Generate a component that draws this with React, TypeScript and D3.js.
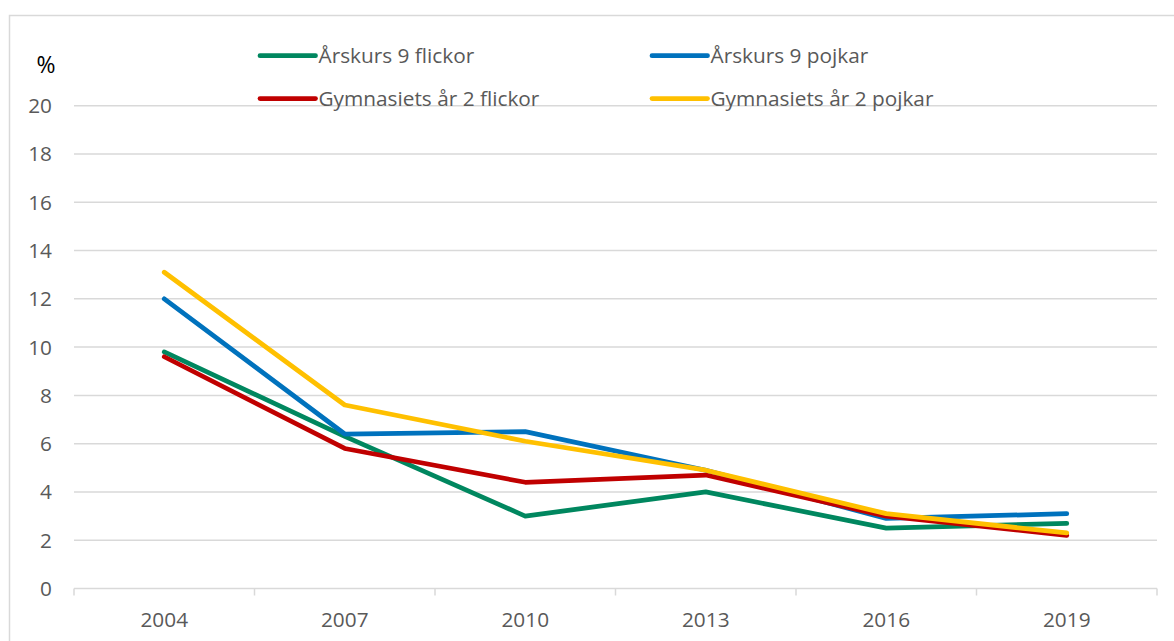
import { useEffect, useRef } from "react";
import * as d3 from "d3";

const years = ["2004", "2007", "2010", "2013", "2016", "2019"];
const yTicks = [0, 2, 4, 6, 8, 10, 12, 14, 16, 18, 20];

const arskurs9Flickor = [9.8, 6.3, 3.0, 4.0, 2.5, 2.7];
const arskurs9Pojkar = [12.0, 6.4, 6.5, 4.9, 2.9, 3.1];
const gymnasietFlickor = [9.6, 5.8, 4.4, 4.7, 3.0, 2.2];
const gymnasietPojkar = [13.1, 7.6, 6.1, 4.9, 3.1, 2.3];

const seriesNames = [
  "Årskurs 9 flickor",
  "Årskurs 9 pojkar",
  "Gymnasiets år 2 flickor",
  "Gymnasiets år 2 pojkar",
];
const seriesColors = ["#00875F", "#0072BD", "#C00000", "#FFC000"];

/**
 * Line chart, four series over survey years.
 */
export default function App() {
  const svgRef = useRef<SVGSVGElement>(null);

  useEffect(() => {
    document.body.style.margin = "0";
    const svg = d3.select(svgRef.current);
    svg.selectAll("*").remove();

    const width = 1174;
    const height = 641;
    const margin = { top: 105.7, right: 17, bottom: 52.5, left: 74 };
    const font = "'Open Sans', sans-serif";
    const fontSize = 20.8;
    const textColor = "#595959";
    const gridColor = "#D9D9D9";

    svg.attr("width", width).attr("height", height).style("background", "#fff").style("display", "block");

    // chart area border
    svg
      .append("rect")
      .attr("x", 9.5)
      .attr("y", 15.5)
      .attr("width", width + 20)
      .attr("height", height + 20)
      .attr("fill", "none")
      .attr("stroke", gridColor)
      .attr("stroke-width", 1.5);

    const xScale = d3
      .scaleBand()
      .domain(years)
      .range([margin.left, width - margin.right]);

    const yScale = d3
      .scaleLinear()
      .domain([0, 20])
      .range([height - margin.bottom, margin.top]);

    // gridlines
    svg
      .append("g")
      .selectAll("line")
      .data(yTicks.filter((t) => t > 0))
      .enter()
      .append("line")
      .attr("x1", margin.left)
      .attr("x2", width - margin.right)
      .attr("y1", (d) => yScale(d))
      .attr("y2", (d) => yScale(d))
      .attr("stroke", gridColor)
      .attr("stroke-width", 1.5);

    // y labels
    svg
      .append("g")
      .selectAll("text")
      .data(yTicks)
      .enter()
      .append("text")
      .attr("x", 52)
      .attr("y", (d) => yScale(d))
      .attr("dy", "0.36em")
      .attr("text-anchor", "end")
      .attr("font-family", font)
      .attr("font-size", fontSize)
      .attr("fill", textColor)
      .text((d) => d);

    svg
      .append("text")
      .attr("x", 46)
      .attr("y", 73)
      .attr("text-anchor", "middle")
      .attr("font-family", font)
      .attr("font-size", 23)
      .attr("fill", "#000")
      .text("%");

    // x axis
    const xAxis = d3
      .axisBottom(xScale)
      .tickSize(0)
      .tickPadding(0)
      .tickFormat(() => "");
    const gx = svg
      .append("g")
      .attr("transform", `translate(0, ${yScale(0)})`)
      .call(xAxis);
    gx.select(".domain")
      .attr("stroke", gridColor)
      .attr("stroke-width", 1.5)
      .attr("d", `M${margin.left},0H${width - margin.right}`);

    const bounds = years.map((y) => xScale(y)!).concat([width - margin.right]);
    svg
      .append("g")
      .selectAll("line")
      .data(bounds)
      .enter()
      .append("line")
      .attr("x1", (d) => d)
      .attr("x2", (d) => d)
      .attr("y1", yScale(0))
      .attr("y2", yScale(0) + 7)
      .attr("stroke", gridColor)
      .attr("stroke-width", 1.5);

    svg
      .append("g")
      .selectAll("text")
      .data(years)
      .enter()
      .append("text")
      .attr("x", (d) => xScale(d)! + xScale.bandwidth() / 2)
      .attr("y", 626.5)
      .attr("text-anchor", "middle")
      .attr("font-family", font)
      .attr("font-size", fontSize)
      .attr("fill", textColor)
      .text((d) => d);

    // lines
    const allSeries = [arskurs9Flickor, arskurs9Pojkar, gymnasietFlickor, gymnasietPojkar];
    const line = d3
      .line<number>()
      .x((_, i) => xScale(years[i])! + xScale.bandwidth() / 2)
      .y((d) => yScale(d));

    allSeries.forEach((values, i) => {
      svg
        .append("path")
        .datum(values)
        .attr("d", line)
        .attr("fill", "none")
        .attr("stroke", seriesColors[i])
        .attr("stroke-width", 4.75)
        .attr("stroke-linecap", "round")
        .attr("stroke-linejoin", "round");
    });

    // legend
    const legendX = [260, 652];
    const legendY = [55.7, 98.5];
    seriesNames.forEach((name, i) => {
      const lx = legendX[i % 2];
      const ly = legendY[Math.floor(i / 2)];
      svg
        .append("line")
        .attr("x1", lx)
        .attr("x2", lx + 55.5)
        .attr("y1", ly)
        .attr("y2", ly)
        .attr("stroke", seriesColors[i])
        .attr("stroke-width", 4.75)
        .attr("stroke-linecap", "round");
      svg
        .append("text")
        .attr("x", lx + 58.5)
        .attr("y", ly + 7.5)
        .attr("font-family", font)
        .attr("font-size", fontSize)
        .attr("fill", textColor)
        .text(name);
    });
  }, []);

  return <svg ref={svgRef}></svg>;
}
